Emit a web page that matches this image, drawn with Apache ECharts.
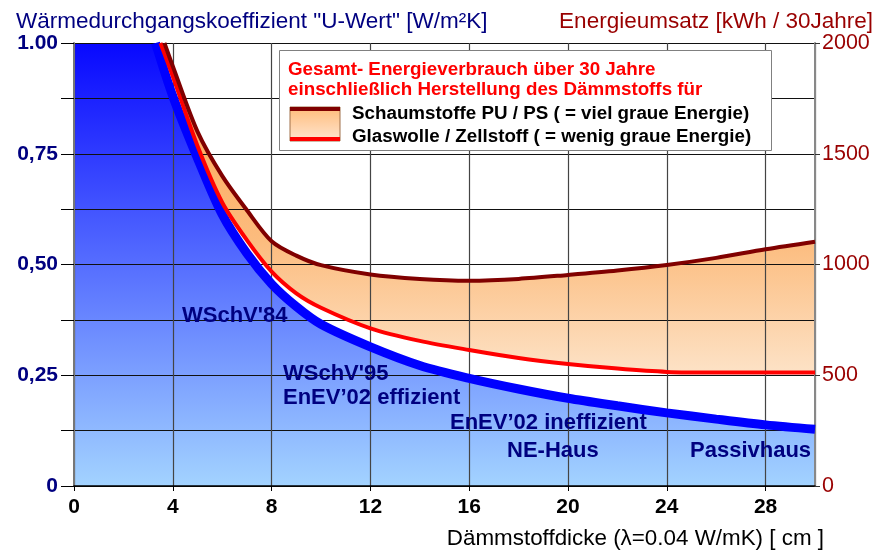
<!DOCTYPE html>
<html>
<head>
<meta charset="utf-8">
<script src="https://cdn.jsdelivr.net/npm/echarts@6/dist/echarts.min.js"></script>
<style>
  html, body { margin: 0; padding: 0; background: #fff; }
  #chart { width: 883px; height: 552px; }
</style>
</head>
<body>
<div id="chart"></div>
<script>
// U-Wert curve (left axis)
var uX = [3.3, 4, 5, 6, 7, 8, 9, 10, 12, 14, 16, 18, 20, 22, 24, 26, 28, 30];
var uVal = [1.0, 0.88, 0.74, 0.613, 0.525, 0.456, 0.405, 0.365, 0.314, 0.272, 0.243, 0.219, 0.198, 0.181, 0.165, 0.151, 0.138, 0.128];

// Energieumsatz (right axis)
var wolleX = [3.5, 4, 5, 6, 7, 8, 9, 10, 12, 14, 16, 18, 20, 22, 24, 26, 28, 30];
var wolleVal = [2000, 1850, 1535, 1280, 1110, 968, 870, 805, 712, 655, 614, 578, 551, 530, 515, 512, 512, 512];
var schaumX = [3.66, 4, 5, 6, 7, 8, 9, 10, 12, 14, 16, 18, 20, 22, 24, 26, 28, 30];
var schaumVal = [2000, 1895, 1600, 1400, 1245, 1105, 1040, 997, 955, 935, 927, 935, 953, 973, 998, 1030, 1069, 1103];

var leftTickLabels = ['0', '', '0,25', '', '0,50', '', '0,75', '', '1.00'];
var rightTickLabels = ['0', '500', '1000', '1500', '2000'];

var FONT = '"Liberation Sans", Arial, sans-serif';
var SMOOTH = 0.3;

var chart = echarts.init(document.getElementById('chart'));

function pairs(xs, ys) {
  return xs.map(function (x, i) { return [x, ys[i]]; });
}

// same curve shape as the line series smoothing, sampled so the band edge follows the lines
function smoothPts(pts, s) {
  var out = [pts[0]];
  var cp0 = pts[0];
  for (var i = 1; i < pts.length; i++) {
    var prev = pts[i - 1], cur = pts[i], next = pts[i + 1];
    var vx = 0, vy = 0, ratio = 0.5, cp1;
    if (!next) {
      cp1 = cur;
    } else {
      vx = next[0] - prev[0];
      vy = next[1] - prev[1];
      var l0 = Math.hypot(cur[0] - prev[0], cur[1] - prev[1]);
      var l1 = Math.hypot(next[0] - cur[0], next[1] - cur[1]);
      ratio = l1 / (l0 + l1);
      cp1 = [cur[0] - vx * s * (1 - ratio), cur[1] - vy * s * (1 - ratio)];
    }
    for (var k = 1; k <= 12; k++) {
      var t = k / 12, m = 1 - t;
      out.push([
        m * m * m * prev[0] + 3 * m * m * t * cp0[0] + 3 * m * t * t * cp1[0] + t * t * t * cur[0],
        m * m * m * prev[1] + 3 * m * m * t * cp0[1] + 3 * m * t * t * cp1[1] + t * t * t * cur[1]
      ]);
    }
    cp0 = [cur[0] + vx * s * ratio, cur[1] + vy * s * ratio];
  }
  return out;
}

// blue area reaches the top of the plot left of the curve
var uArea = [[0, 1]].concat(pairs(uX, uVal));

var option = {
  backgroundColor: '#ffffff',
  animation: false,
  grid: { left: 74, right: 68, top: 43, bottom: 66 },
  xAxis: {
    type: 'value',
    min: 0, max: 30, interval: 4,
    z: 3,
    axisLine: { show: true, lineStyle: { color: '#000', width: 1.5 } },
    axisTick: { show: true, length: 5, lineStyle: { color: '#000' } },
    axisLabel: { margin: 11, color: '#000', fontSize: 21, fontWeight: 'bold', fontFamily: FONT, showMaxLabel: false },
    splitLine: { show: true, lineStyle: { color: '#444', width: 1.2 } }
  },
  yAxis: [
    {
      type: 'value',
      min: 0, max: 1, interval: 0.125,
      z: 3,
      axisLine: { show: true, lineStyle: { color: '#777', width: 2 } },
      axisTick: { show: true, length: 13, lineStyle: { color: '#000' } },
      axisLabel: {
        margin: 16, color: '#000080', fontSize: 21, fontWeight: 'bold', fontFamily: FONT,
        formatter: function (v) { return leftTickLabels[Math.round(v / 0.125)]; }
      },
      splitLine: { show: true, lineStyle: { color: '#111', width: 1.2 } }
    },
    {
      type: 'value',
      min: 0, max: 2000, interval: 500,
      position: 'right',
      z: 3,
      axisLine: { show: true, lineStyle: { color: '#888', width: 2 } },
      axisTick: { show: true, length: 5, lineStyle: { color: '#333' } },
      axisLabel: {
        margin: 7, color: '#990000', fontSize: 21.5, fontFamily: FONT,
        formatter: function (v) { return rightTickLabels[Math.round(v / 500)]; }
      },
      splitLine: { show: false }
    }
  ],
  series: [
    {
      type: 'line',
      data: uArea,
      yAxisIndex: 0,
      smooth: SMOOTH,
      symbol: 'none',
      z: 1,
      lineStyle: { width: 0 },
      areaStyle: {
        opacity: 1,
        color: new echarts.graphic.LinearGradient(0, 0, 0, 1, [
          { offset: 0, color: '#0808ff' },
          { offset: 1, color: '#a3d3ff' }
        ])
      }
    },
    {
      type: 'custom',
      yAxisIndex: 1,
      z: 1,
      silent: true,
      data: pairs(schaumX, schaumVal),
      renderItem: function (params, api) {
        if (params.dataIndex !== 0) return;
        var top = schaumX.map(function (x, i) { return api.coord([x, schaumVal[i]]); });
        var bottom = wolleX.map(function (x, i) { return api.coord([x, wolleVal[i]]); });
        var pts = smoothPts(top, SMOOTH).concat(smoothPts(bottom, SMOOTH).reverse());
        return {
          type: 'polygon',
          shape: { points: pts },
          style: {
            fill: new echarts.graphic.LinearGradient(0, 0, 0, 1, [
              { offset: 0, color: '#ffa04a' },
              { offset: 0.6, color: '#fcbc7e' },
              { offset: 1, color: '#fde2c6' }
            ])
          }
        };
      }
    },
    {
      type: 'line',
      data: pairs(uX, uVal),
      yAxisIndex: 0,
      smooth: SMOOTH,
      symbol: 'none',
      z: 5,
      lineStyle: { color: '#0000ff', width: 9 }
    },
    {
      type: 'line',
      data: pairs(wolleX, wolleVal),
      yAxisIndex: 1,
      smooth: SMOOTH,
      symbol: 'none',
      z: 6,
      lineStyle: { color: '#ff0000', width: 4 }
    },
    {
      type: 'line',
      data: pairs(schaumX, schaumVal),
      yAxisIndex: 1,
      smooth: SMOOTH,
      symbol: 'none',
      z: 6,
      lineStyle: { color: '#800000', width: 4 }
    }
  ],
  graphic: [
    { type: 'text', x: 16, y: 22, z: 10, style: { text: 'Wärmedurchgangskoeffizient "U-Wert" [W/m²K]', fill: '#000080', font: '22.5px ' + FONT, textVerticalAlign: 'middle' } },
    { type: 'text', x: 873, y: 22, z: 10, style: { text: 'Energieumsatz [kWh / 30Jahre]', fill: '#990000', font: '22.5px ' + FONT, textAlign: 'right', textVerticalAlign: 'middle' } },
    { type: 'text', x: 824, y: 539, z: 10, style: { text: 'Dämmstoffdicke (λ=0.04 W/mK) [ cm ]', fill: '#000', font: '22.4px ' + FONT, textAlign: 'right', textVerticalAlign: 'middle' } },

    // legend box
    { type: 'rect', z: 20, shape: { x: 279.5, y: 50.5, width: 492, height: 100 }, style: { fill: '#fff', stroke: '#808080', lineWidth: 1 } },
    { type: 'text', x: 288, y: 70, z: 21, style: { text: 'Gesamt- Energieverbrauch über 30 Jahre', fill: '#ff0000', font: 'bold 18.8px ' + FONT, textVerticalAlign: 'middle' } },
    { type: 'text', x: 288, y: 90, z: 21, style: { text: 'einschließlich Herstellung des Dämmstoffs für', fill: '#ff0000', font: 'bold 18.8px ' + FONT, textVerticalAlign: 'middle' } },
    { type: 'rect', z: 21, shape: { x: 290, y: 107, width: 50, height: 34 }, style: {
      fill: new echarts.graphic.LinearGradient(0, 0, 0, 1, [
        { offset: 0, color: '#ffbb78' },
        { offset: 1, color: '#ffe6d2' }
      ]), stroke: '#a0704a', lineWidth: 1 } },
    { type: 'rect', z: 22, shape: { x: 290, y: 107, width: 50, height: 4 }, style: { fill: '#800000' } },
    { type: 'rect', z: 22, shape: { x: 290, y: 137, width: 50, height: 4 }, style: { fill: '#ff0000' } },
    { type: 'text', x: 352, y: 114, z: 21, style: { text: 'Schaumstoffe PU / PS ( = viel graue Energie)', fill: '#000', font: 'bold 18.8px ' + FONT, textVerticalAlign: 'middle' } },
    { type: 'text', x: 352, y: 137, z: 21, style: { text: 'Glaswolle / Zellstoff ( = wenig graue Energie)', fill: '#000', font: 'bold 18.8px ' + FONT, textVerticalAlign: 'middle' } },

    // standard annotations
    { type: 'text', x: 182, y: 316, z: 10, style: { text: "WSchV'84", fill: '#000080', font: 'bold 22px ' + FONT, textVerticalAlign: 'middle' } },
    { type: 'text', x: 283, y: 374, z: 10, style: { text: "WSchV'95", fill: '#000080', font: 'bold 22px ' + FONT, textVerticalAlign: 'middle' } },
    { type: 'text', x: 283, y: 398, z: 10, style: { text: 'EnEV’02 effizient', fill: '#000080', font: 'bold 22px ' + FONT, textVerticalAlign: 'middle' } },
    { type: 'text', x: 450, y: 423, z: 10, style: { text: 'EnEV’02 ineffizient', fill: '#000080', font: 'bold 22px ' + FONT, textVerticalAlign: 'middle' } },
    { type: 'text', x: 507, y: 451, z: 10, style: { text: 'NE-Haus', fill: '#000080', font: 'bold 22px ' + FONT, textVerticalAlign: 'middle' } },
    { type: 'text', x: 690, y: 451, z: 10, style: { text: 'Passivhaus', fill: '#000080', font: 'bold 22px ' + FONT, textVerticalAlign: 'middle' } }
  ]
};

chart.setOption(option);
</script>
</body>
</html>
